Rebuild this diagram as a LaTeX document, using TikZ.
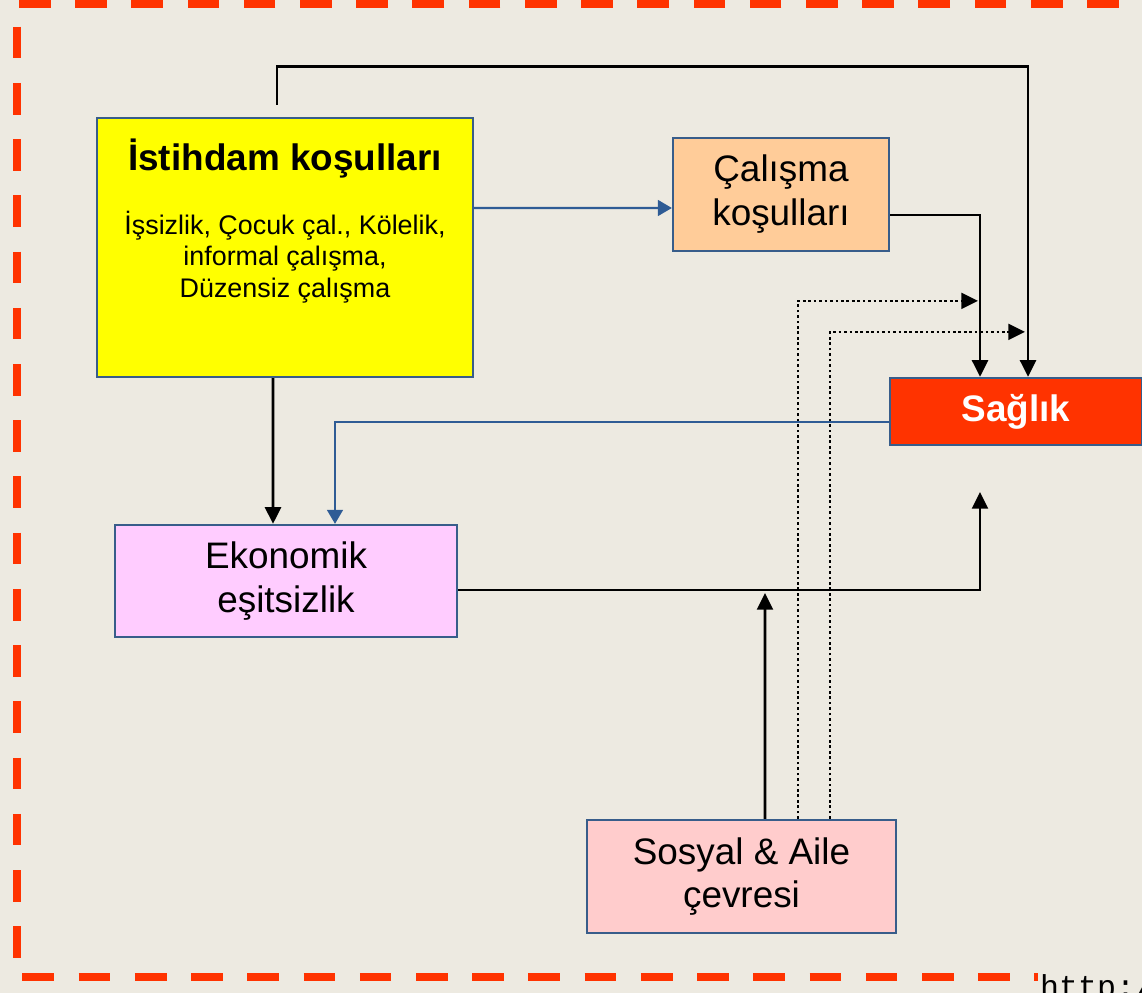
\documentclass[tikz,border=0pt]{standalone}
\usepackage{fontspec}
\setmainfont{Liberation Sans}
\setmonofont{Liberation Mono}
\usetikzlibrary{arrows.meta,calc}
\definecolor{bgbeige}{HTML}{EDEAE1}
\definecolor{frameorange}{HTML}{FF3300}
\definecolor{boxline}{HTML}{385D8A}
\definecolor{linkblue}{HTML}{2F5C95}
\definecolor{istyellow}{HTML}{FFFF00}
\definecolor{calpeach}{HTML}{FFCC99}
\definecolor{sagred}{HTML}{FF3300}
\definecolor{ekopink}{HTML}{FFCCFF}
\definecolor{sospink}{HTML}{FFCCCC}

\begin{document}
\begin{tikzpicture}[x=0.02cm, y=-0.02cm,
    box/.style={draw=boxline, line width=1.3pt, inner sep=0pt, align=center},
    big/.style={font=\fontsize{21}{25}\selectfont},
    arr/.style={line width=1.6pt, -{Triangle[length=9.5pt,width=9pt]}},
    bluearr/.style={draw=linkblue, line width=1.3pt, -{Triangle[length=8pt,width=9pt]}},
    dotarr/.style={line width=1.5pt, dash pattern=on 1.5pt off 1.6pt, -{Triangle[length=9.5pt,width=9pt]}},
    frame/.style={draw=frameorange, line width=4.2pt, dash pattern=on 18pt off 14pt}]
        \fill[bgbeige] (0,0) rectangle (1142,993);
        \useasboundingbox (0,0) rectangle (1142,993);
        \draw[frame] (1175,4) -- (17,4) -- (17,977) -- (1175,977);
        \node[fill=bgbeige, inner sep=1pt, anchor=base west, font=\ttfamily\fontsize{18}{20}\selectfont] (url) at (1038,997) {http://};

        % boxes
        \node[box, fill=istyellow, minimum width=7.52cm, minimum height=5.18cm] (ist) at (285,247.5) {};
        \node[anchor=base, font=\bfseries\fontsize{21}{24}\selectfont] (isttitle) at ($(ist.north)+(0,54)$) {İstihdam koşulları};
        \node[align=center, font=\fontsize{15.3}{18}\selectfont] (istbody) at ($(ist.north)+(0,140)$) {İşsizlik, Çocuk çal., Kölelik,\\ informal çalışma,\\ Düzensiz çalışma};
        \node[box, big, fill=calpeach, minimum width=4.32cm, minimum height=2.26cm] (cal) at (781,194.5) {Çalışma\\ koşulları};
        \node[box, fill=sagred, text=white, font=\bfseries\fontsize{21}{25}\selectfont, minimum width=5.04cm, minimum height=1.34cm] (sag) at (1016,411.5) {Sağlık};
        \node[box, big, fill=ekopink, minimum width=6.84cm, minimum height=2.24cm] (eko) at (286,581) {Ekonomik\\ eşitsizlik};
        \node[box, big, fill=sospink, minimum width=6.18cm, minimum height=2.26cm] (sos) at (741.5,876.5) {Sosyal \& Aile\\ çevresi};

        % free ends
        \coordinate (upA) at (980,492);
        \coordinate (upB) at (765,593);

        % connectors
        \draw[arr] ($(ist.north)+(-8,-12)$) -- ++(0,-38) -| ($(sag.north)+(12,0)$);
        \draw[bluearr] ($(ist.east)+(0,-39.5)$) -- ($(cal.west)+(0,13.5)$);
        \draw[arr] ($(cal.east)+(0,20.5)$) -| ($(sag.north)+(-36,0)$);
        \draw[dotarr] ($(sos.north)+(56.5,0)$) |- ($(sag.north)+(-38,-76)$);
        \draw[dotarr] ($(sos.north)+(88.5,0)$) |- ($(sag.north)+(9,-45)$);
        \draw[arr] ([xshift=-0.24cm]ist.south) -- ([xshift=-0.26cm]eko.north);
        \draw[bluearr] ($(sag.west)+(0,10.5)$) -| ($(eko.north)+(49,0)$);
        \draw[arr] ($(eko.east)+(0,9)$) -| (upA);
        \draw[arr] ($(sos.north)+(23.5,0)$) -- (upB);
    \end{tikzpicture}
\end{document}
